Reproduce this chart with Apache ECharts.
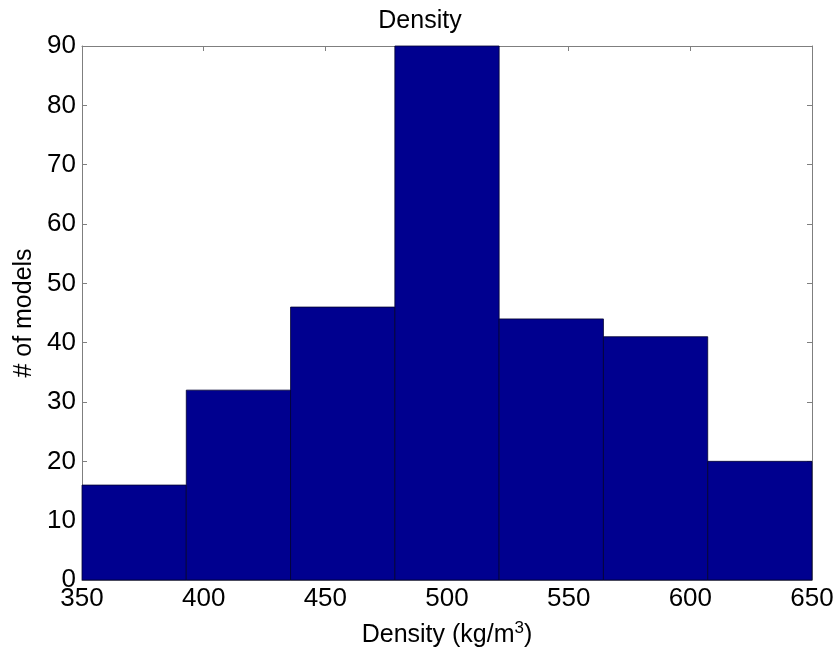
<!DOCTYPE html>
<html>
<head>
<meta charset="utf-8">
<script src="https://cdn.jsdelivr.net/npm/echarts@6/dist/echarts.min.js"></script>
<style>html,body{margin:0;padding:0;background:#fff}#c{width:840px;height:652px}</style>
</head>
<body>
<div id="c"></div>
<script>
// Histogram bin edges (kg/m^3) and counts
const binEdges = [350, 392.857, 435.714, 478.571, 521.429, 564.286, 607.143, 650];
const counts = [16, 32, 46, 90, 44, 41, 20];
const xTicks = [350, 400, 450, 500, 550, 600, 650];
const yTicks = [0, 10, 20, 30, 40, 50, 60, 70, 80, 90];

const data = counts.map((c, i) => [binEdges[i], binEdges[i + 1], c]);

const FONT = '"Liberation Sans", Arial, Helvetica, sans-serif';
const axisCol = '#7f7f7f';

const chart = echarts.init(document.getElementById('c'), null, {renderer: 'canvas'});
const baseAxis = {
  axisLine: {show: true, onZero: false, lineStyle: {color: axisCol, width: 1}},
  axisTick: {show: true, inside: true, length: 5, lineStyle: {color: axisCol}},
  splitLine: {show: false}
};
chart.setOption({
  animation: false,
  backgroundColor: '#fff',
  title: {
    text: 'Density', left: 'center', top: 4,
    textStyle: {fontFamily: FONT, fontSize: 25, fontWeight: 'normal', color: '#000'}
  },
  grid: {left: 82, top: 46, width: 730, height: 534, containLabel: false, outerBoundsMode: 'none'},
  xAxis: [
    Object.assign({}, baseAxis, {
      type: 'value', min: 350, max: 650, interval: 50, position: 'bottom',
      axisLabel: {fontFamily: FONT, fontSize: 26, color: '#000', margin: 6,
        customValues: xTicks},
      axisTick: {show: true, inside: true, length: 5, lineStyle: {color: axisCol}, customValues: xTicks},
      name: '{a|Density (kg/m}{s|3}{a|)}',
      nameLocation: 'middle', nameGap: 40,
      nameTextStyle: {
        rich: {
          a: {fontFamily: FONT, fontSize: 25, color: '#000', verticalAlign: 'bottom', lineHeight: 28},
          s: {fontFamily: FONT, fontSize: 17, color: '#000', verticalAlign: 'top', lineHeight: 28, padding: [0, 0, 11, 0]}
        }
      }
    }),
    Object.assign({}, baseAxis, {
      type: 'value', min: 350, max: 650, interval: 50, position: 'top',
      axisLabel: {show: false}
    })
  ],
  yAxis: [
    Object.assign({}, baseAxis, {
      type: 'value', min: 0, max: 90, interval: 10, position: 'left',
      axisLabel: {fontFamily: FONT, fontSize: 26, color: '#000', margin: 6, customValues: yTicks},
      name: '# of models', nameLocation: 'middle', nameGap: 44, nameRotate: 90,
      nameTextStyle: {fontFamily: FONT, fontSize: 25, color: '#000'}
    }),
    Object.assign({}, baseAxis, {
      type: 'value', min: 0, max: 90, interval: 10, position: 'right',
      axisLabel: {show: false}
    })
  ],
  series: [{
    type: 'custom',
    xAxisIndex: 0, yAxisIndex: 0,
    data: data,
    encode: {x: [0, 1], y: 2},
    renderItem: function (params, api) {
      const p0 = api.coord([api.value(0), 0]);
      const p1 = api.coord([api.value(1), api.value(2)]);
      return {
        type: 'rect',
        shape: {x: p0[0], y: p1[1], width: p1[0] - p0[0], height: p0[1] - p1[1]},
        style: {fill: '#00008F', stroke: '#000030', lineWidth: 0.8}
      };
    }
  }]
});
</script>
</body>
</html>
